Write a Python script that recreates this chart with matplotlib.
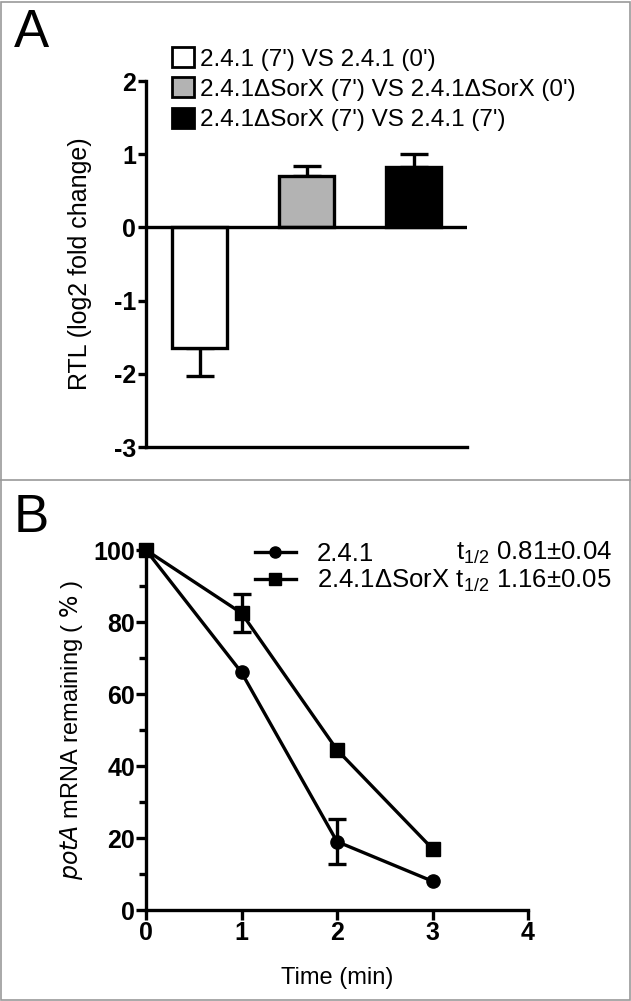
import matplotlib
matplotlib.use('Agg')
import matplotlib.pyplot as plt
from matplotlib.patches import Patch
from matplotlib.lines import Line2D

plt.rcParams['font.family'] = ['Liberation Sans', 'DejaVu Sans']
plt.rcParams['axes.unicode_minus'] = False

# panel A data
bar_labels = ["2.4.1 (7') VS 2.4.1 (0')",
              "2.4.1\u0394SorX (7') VS 2.4.1\u0394SorX (0')",
              "2.4.1\u0394SorX (7') VS 2.4.1 (7')"]
bar_values = [-1.65, 0.70, 0.82]
bar_err = [0.38, 0.14, 0.18]
bar_colors = ['white', '#b3b3b3', 'black']

# panel B data
time_min = [0, 1, 2, 3]
wt_remaining = [100, 66, 19, 8]
wt_err = [0, 0, 6.3, 0]
sorx_remaining = [100, 82.5, 44.5, 17]
sorx_err = [0, 5.3, 0, 0]

LW = 2.4

fig = plt.figure(figsize=(6.31, 10.01), dpi=100)

# ---- panel A ----
ax = fig.add_axes([0.2314, 0.5534, 0.509, 0.3656])
pos = [1, 2, 3]
ax.bar(pos, bar_values, width=0.52, color=bar_colors, edgecolor='black',
       linewidth=LW, zorder=2)
lower = [e if v < 0 else 0 for v, e in zip(bar_values, bar_err)]
upper = [e if v >= 0 else 0 for v, e in zip(bar_values, bar_err)]
ax.errorbar(pos, bar_values, yerr=[lower, upper], fmt='none', ecolor='black',
            elinewidth=LW, capsize=10, capthick=LW, zorder=1)
ax.axhline(0, color='black', lw=LW, zorder=3)
ax.set_xlim(0.5, 3.5)
ax.set_ylim(-3, 2)
ax.set_yticks([-3, -2, -1, 0, 1, 2])
ax.set_xticks([])
for s in ['top', 'right']:
    ax.spines[s].set_visible(False)
for s in ['left', 'bottom']:
    ax.spines[s].set_linewidth(LW)
ax.tick_params(axis='y', width=LW, length=6, labelsize=18, pad=1)
for t in ax.get_yticklabels():
    t.set_fontweight('bold')
ax.set_ylabel('RTL (log2 fold change)', fontsize=18, labelpad=16)

handles = [Patch(facecolor=c, edgecolor='black', linewidth=2) for c in bar_colors]
fig.legend(handles, bar_labels, loc='upper left',
           bbox_to_anchor=(0.2726, 0.953), frameon=False, fontsize=17.5,
           handlelength=0.9, handleheight=0.9, handletextpad=0.25,
           labelspacing=0.28, borderpad=0, borderaxespad=0)

# ---- panel B ----
bx = fig.add_axes([0.2314, 0.0909, 0.6054, 0.3596])
bx.plot(time_min, wt_remaining, color='black', lw=LW, marker='o',
        markersize=9.5, clip_on=False, zorder=3)
bx.plot(time_min, sorx_remaining, color='black', lw=LW, marker='s',
        markersize=9.5, clip_on=False, zorder=3)
for ys, es in [(wt_remaining, wt_err), (sorx_remaining, sorx_err)]:
    xe = [x for x, e in zip(time_min, es) if e > 0]
    ye = [y for y, e in zip(ys, es) if e > 0]
    ee = [e for e in es if e > 0]
    bx.errorbar(xe, ye, yerr=ee, fmt='none', ecolor='black', elinewidth=LW,
                capsize=6.5, capthick=LW, zorder=3)
bx.set_xlim(0, 4)
bx.set_ylim(0, 100)
bx.set_xticks([0, 1, 2, 3, 4])
bx.set_yticks([0, 20, 40, 60, 80, 100])
bx.set_yticks([10, 30, 50, 70, 90], minor=True)
for s in ['top', 'right']:
    bx.spines[s].set_visible(False)
for s in ['left', 'bottom']:
    bx.spines[s].set_linewidth(LW)
bx.tick_params(which='major', width=LW, length=7, labelsize=18, pad=1)
bx.tick_params(which='minor', width=LW, length=5)
for t in bx.get_xticklabels() + bx.get_yticklabels():
    t.set_fontweight('bold')
bx.set_xlabel('Time (min)', fontsize=17, labelpad=16)
bx.set_ylabel(r'$\mathit{potA}$ mRNA remaining ( $\%$ )', fontsize=17, labelpad=6)

lh = [Line2D([], [], color='black', lw=LW, marker='o', markersize=8),
      Line2D([], [], color='black', lw=LW, marker='s', markersize=8)]
fig.legend(lh, ['2.4.1', '2.4.1\u0394SorX $\\mathregular{t_{1/2}}$ 1.16\u00b10.05'],
           loc='upper left', bbox_to_anchor=(0.404, 0.459), frameon=False,
           fontsize=18.5, handlelength=1.6, handletextpad=0.8,
           labelspacing=0.1, borderpad=0, borderaxespad=0)
fig.text(0.970, 0.4475, '$\\mathregular{t_{1/2}}$ 0.81\u00b10.04', fontsize=18.5,
         ha='right', va='center')

# panel letters and frame
fig.text(0.022, 0.953, 'A', fontsize=38, va='baseline', ha='left')
fig.text(0.022, 0.4685, 'B', fontsize=38, va='baseline', ha='left')
frame = '#9a9a9a'
fig.add_artist(Line2D([0, 1], [0.5205, 0.5205], color=frame, lw=1.2,
                      transform=fig.transFigure))
fig.add_artist(plt.Rectangle((0.001, 0.001), 0.997, 0.997, fill=False,
                             edgecolor=frame, lw=1.2, transform=fig.transFigure))

fig.savefig('out.png', dpi=100)
